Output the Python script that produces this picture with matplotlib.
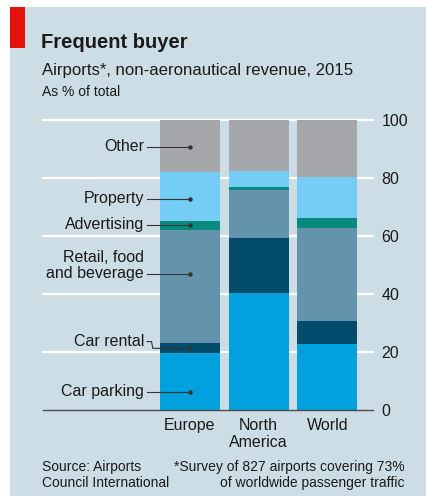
import matplotlib
matplotlib.use("Agg")
import matplotlib.pyplot as plt
from matplotlib.patches import Rectangle

plt.rcParams['font.family'] = ['Liberation Sans', 'DejaVu Sans']

# data, % of non-aeronautical revenue
regions = ["Europe", "North\nAmerica", "World"]
segments = ["Car parking", "Car rental", "Retail, food\nand beverage",
            "Advertising", "Property", "Other"]
car_parking = [19.5, 40.3, 22.8]
car_rental = [3.5, 19.0, 7.8]
retail = [39.1, 16.6, 32.3]
advertising = [3.1, 0.9, 3.3]
property_ = [17.0, 5.7, 14.3]
other = [17.8, 17.5, 19.5]

colors = ["#00a1dc", "#004c6a", "#6394ab", "#0a8a7f", "#74cdf4", "#a6a7ab"]
bg = "#cddde6"
ink = "#1a1a1a"

W, H = 426, 496
fig = plt.figure(figsize=(W / 100, H / 100), dpi=100, facecolor="white")

def fx(px):
    return px / W

def fy(py):
    return 1 - py / H

fig.patches.append(Rectangle((fx(10), 0), 1 - fx(10), fy(7), transform=fig.transFigure,
                             facecolor=bg, edgecolor="none", zorder=-2))
fig.patches.append(Rectangle((fx(10), fy(48)), fx(15), fy(7) - fy(48), transform=fig.transFigure,
                             facecolor="#e3120b", edgecolor="none", zorder=-1))

fig.text(fx(41), fy(48), "Frequent buyer", fontsize=14.5, fontweight="bold",
         color=ink, va="baseline")
fig.text(fx(42), fy(75), "Airports*, non-aeronautical revenue, 2015", fontsize=12.1,
         color=ink, va="baseline")
fig.text(fx(42), fy(96), "As % of total", fontsize=10, color=ink, va="baseline")

fig.text(fx(42), fy(471), "Source: Airports", fontsize=10, color=ink, va="baseline")
fig.text(fx(42), fy(487), "Council International", fontsize=10, color=ink, va="baseline")
fig.text(fx(405), fy(471), "*Survey of 827 airports covering 73%", fontsize=10,
         color=ink, va="baseline", ha="right")
fig.text(fx(405), fy(487), "of worldwide passenger traffic", fontsize=10,
         color=ink, va="baseline", ha="right")

ax = fig.add_axes([fx(43), fy(410), fx(373) - fx(43), fy(120) - fy(410)])
ax.set_facecolor("none")
ax.set_zorder(2)

x = [0, 1, 2]
width = 0.873
bottom = [0, 0, 0]
series = [car_parking, car_rental, retail, advertising, property_, other]
tops = []
for vals, c in zip(series, colors):
    ax.bar(x, vals, width, bottom=bottom, color=c, zorder=2)
    bottom = [b + v for b, v in zip(bottom, vals)]
    tops.append(list(bottom))

for g in [20, 40, 60, 80, 100]:
    ax.axhline(g, color="white", lw=1.6, zorder=1, clip_on=False)
ax.axhline(0, color="#4d4d4d", lw=1.0, zorder=3, clip_on=False)

ax.set_xlim(-2.138, 2.662)
ax.set_ylim(0, 100)
ax.set_xticks(x)
ax.set_xticklabels(regions, fontsize=11.5, color=ink, linespacing=1.15)
ax.tick_params(axis="x", length=0, pad=6)
ax.yaxis.tick_right()
ax.set_yticks([0, 20, 40, 60, 80, 100])
ax.tick_params(axis="y", length=0, pad=6, labelsize=11.5, labelcolor=ink)
for s in ax.spines.values():
    s.set_visible(False)

# segment labels pointing at the Europe bar
label_y = [6.3, 23.6, 46.8, 63.8, 72.8, 90.7]
for i, (name, ly) in enumerate(zip(segments, label_y)):
    ty = ly + 2.9 if "\n" in name else ly
    ax.text(-0.669, ty, name, ha="right", va="center", fontsize=11.5,
            color=ink, multialignment="right", linespacing=1.1)
    if name == "Car rental":
        lo = tops[i - 1][0]
        dy = (lo + tops[i][0]) / 2
        xs = [-0.625, -0.56, -0.54, 0]
        ys = [ly, ly, dy, dy]
    else:
        xs = [-0.625, 0]
        ys = [ly, ly]
        dy = ly
    ax.plot(xs, ys, color="#333333", lw=0.8, zorder=4, clip_on=False)
    ax.plot(0, dy, "o", color="#333333", ms=2.2, zorder=5)

fig.savefig("out.png", dpi=100, facecolor="white")
